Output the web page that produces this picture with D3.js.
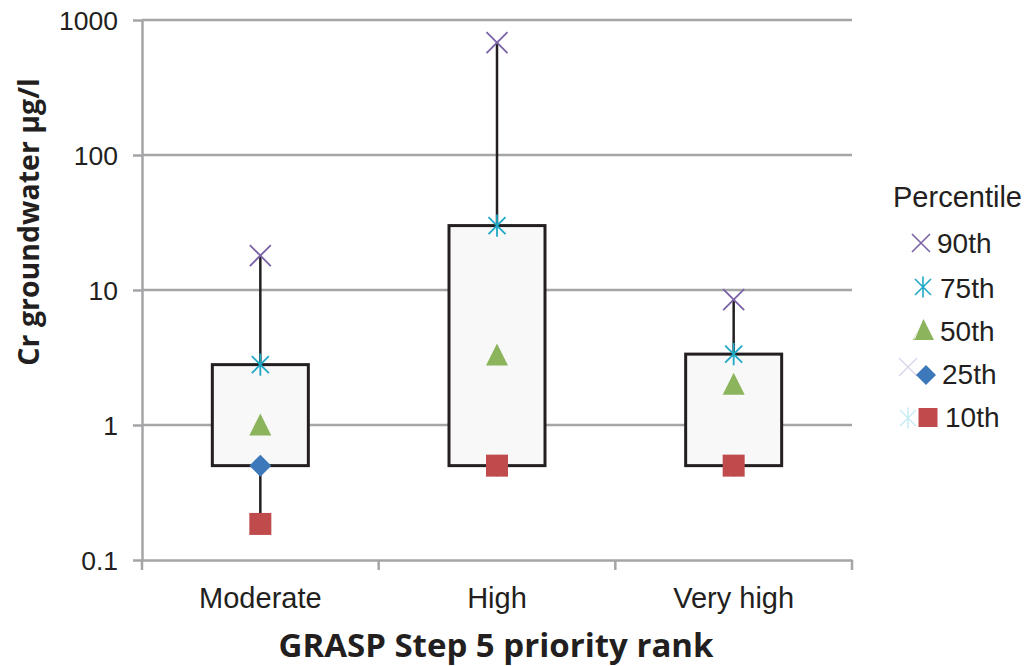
<!DOCTYPE html>
<meta charset="utf-8">
<style>
    body { margin: 0; background: #fff; }
    text { font-family: "Liberation Sans", Arial, sans-serif; fill: #231f20; }
    .title { font-family: "Open Sans", sans-serif; font-weight: 700; }
</style>
<script src="https://d3js.org/d3.v7.min.js"></script>
<body>
<script>

    // chart data
    var categories = ["Moderate", "High", "Very high"]
    var p90 = [18, 680, 8.5]
    var p75 = [2.8, 30, 3.35]
    var p50 = [1.0, 3.3, 2.0]
    var p25 = [0.5, 0.5, 0.5]
    var p10 = [0.185, 0.5, 0.5]
    var yTicks = [0.1, 1, 10, 100, 1000]
    var legendLabels = ["90th", "75th", "50th", "25th", "10th"]

    var width = 1034
    var height = 666
    var plotLeft = 142, plotRight = 852, plotTop = 20, plotBottom = 560

    var grid = "#a5a5a7"

    var svg = d3.select("body")
        .append("svg")
        .attr("width", width)
        .attr("height", height)

    var x = d3.scaleBand()
        .domain(categories)
        .range([plotLeft, plotRight])
        .padding(0)

    var y = d3.scaleLog()
        .domain([0.1, 1000])
        .range([plotBottom, plotTop])

    // gridlines
    svg.append("g")
        .selectAll("line")
        .data(yTicks.slice(1))
        .enter()
        .append("line")
        .attr("x1", plotLeft)
        .attr("x2", plotRight)
        .attr("y1", function (d) { return y(d) })
        .attr("y2", function (d) { return y(d) })
        .attr("stroke", grid)
        .attr("stroke-width", 2.5)

    // y axis
    var yAxis = svg.append("g")
        .attr("transform", "translate(" + plotLeft + ",0)")
        .call(d3.axisLeft(y)
            .tickValues(yTicks)
            .tickFormat(function (d) { return String(d) })
            .tickSize(9)
            .tickPadding(15)
            .tickSizeOuter(0))
    yAxis.select(".domain").attr("stroke", grid).attr("stroke-width", 2.5)
    yAxis.selectAll(".tick line").attr("stroke", grid).attr("stroke-width", 2.5)
    yAxis.selectAll(".tick text")
        .style("font-size", "26.5px")
        .attr("fill", "#231f20")
        .attr("dy", "0.36em")

    // x axis
    var xAxis = svg.append("g")
        .attr("transform", "translate(0," + plotBottom + ")")
        .call(d3.axisBottom(x).tickSize(0).tickPadding(27))
    xAxis.select(".domain").attr("stroke", grid).attr("stroke-width", 2.5)
    xAxis.selectAll(".tick text")
        .style("font-size", "29px")
        .attr("fill", "#231f20")
    // category boundary ticks
    var bounds = categories.map(function (c) { return x(c) }).concat([plotRight])
    xAxis.selectAll(".bound")
        .data(bounds)
        .enter()
        .append("line")
        .attr("x1", function (d) { return d })
        .attr("x2", function (d) { return d })
        .attr("y1", 0)
        .attr("y2", 10)
        .attr("stroke", grid)
        .attr("stroke-width", 2.5)

    var cx = function (i) { return x(categories[i]) + x.bandwidth() / 2 }
    var boxW = 96

    var chart = svg.append("g")

    // whiskers
    chart.selectAll(".whiskerTop")
        .data(categories)
        .enter()
        .append("line")
        .attr("x1", function (d, i) { return cx(i) })
        .attr("x2", function (d, i) { return cx(i) })
        .attr("y1", function (d, i) { return y(p90[i]) })
        .attr("y2", function (d, i) { return y(p75[i]) })
        .attr("stroke", "#231f20")
        .attr("stroke-width", 2.5)

    chart.selectAll(".whiskerBottom")
        .data(categories)
        .enter()
        .append("line")
        .attr("x1", function (d, i) { return cx(i) })
        .attr("x2", function (d, i) { return cx(i) })
        .attr("y1", function (d, i) { return y(p25[i]) })
        .attr("y2", function (d, i) { return y(p10[i]) })
        .attr("stroke", "#231f20")
        .attr("stroke-width", 2.5)

    // boxes
    chart.selectAll(".box")
        .data(categories)
        .enter()
        .append("rect")
        .attr("x", function (d, i) { return cx(i) - boxW / 2 })
        .attr("width", boxW)
        .attr("y", function (d, i) { return y(p75[i]) })
        .attr("height", function (d, i) { return y(p25[i]) - y(p75[i]) })
        .attr("fill", "#f8f8f8")
        .attr("stroke", "#231f20")
        .attr("stroke-width", 3)

    // marker shapes
    var cross = function (s) { return "M" + -s + "," + -s + "L" + s + "," + s + "M" + -s + "," + s + "L" + s + "," + -s }
    var star = function (s) { return cross(s) + "M0," + (-s * 1.3) + "L0," + (s * 1.3) }
    var tri = function (s) { return "M0," + (-s * 1.05) + "L" + s + "," + s * 0.95 + "L" + -s + "," + s * 0.95 + "Z" }
    var diamond = function (s) { return "M0," + -s + "L" + s + ",0L0," + s + "L" + -s + ",0Z" }
    var square = function (s) { return "M" + -s + "," + -s + "H" + s + "V" + s + "H" + -s + "Z" }

    var series = [
        { values: p90, path: cross(10.5), stroke: "#7a62a6", fill: "none", legend: cross(9), lx: 921 },
        { values: p75, path: star(8.5), stroke: "#1fa8c6", fill: "none", legend: star(8), lx: 923 },
        { values: p50, path: tri(11), stroke: "none", fill: "#8bb45c", legend: tri(10.5), lx: 923.5 },
        { values: p25, path: diamond(11), stroke: "none", fill: "#3c78ba", legend: diamond(10), lx: 926 },
        { values: p10, path: square(11), stroke: "none", fill: "#c04b4c", legend: square(9.5), lx: 928 }
    ]

    series.forEach(function (s) {
        chart.selectAll(null)
            .data(s.values)
            .enter()
            .append("path")
            .attr("transform", function (d, i) { return "translate(" + cx(i) + "," + y(d) + ")" })
            .attr("d", s.path)
            .attr("fill", s.fill)
            .attr("stroke", s.stroke)
            .attr("stroke-width", 1.8)
    })

    // axis titles
    svg.append("text")
        .attr("class", "title")
        .attr("transform", "translate(39,222) rotate(-90)")
        .attr("text-anchor", "middle")
        .style("font-size", "28.5px")
        .text("Cr groundwater µg/l")

    svg.append("text")
        .attr("class", "title")
        .attr("x", 496)
        .attr("y", 657)
        .attr("text-anchor", "middle")
        .style("font-size", "33px")
        .text("GRASP Step 5 priority rank")

    // legend
    var legend = svg.append("g")
    legend.append("text")
        .attr("x", 893)
        .attr("y", 207)
        .style("font-size", "29px")
        .text("Percentile")

    var legendY = [243, 287, 330, 375, 417.5]
    var legendBase = [253, 298, 341, 384, 427]
    var legendTextX = [937, 940, 940, 942, 945]

    // faint leftover markers behind the last two entries
    legend.append("path")
        .attr("transform", "translate(908,367)")
        .attr("d", cross(9))
        .attr("fill", "none")
        .attr("stroke", "#dcd6ea")
        .attr("stroke-width", 1.5)
    legend.append("path")
        .attr("transform", "translate(908,418)")
        .attr("d", star(8))
        .attr("fill", "none")
        .attr("stroke", "#c8ecf3")
        .attr("stroke-width", 1.5)

    series.forEach(function (s, i) {
        legend.append("path")
            .attr("transform", "translate(" + s.lx + "," + legendY[i] + ")")
            .attr("d", s.legend)
            .attr("fill", s.fill)
            .attr("stroke", s.stroke)
            .attr("stroke-width", 1.6)
        legend.append("text")
            .attr("x", legendTextX[i])
            .attr("y", legendBase[i])
            .style("font-size", "28px")
            .text(legendLabels[i])
    })

    // thin white streak on the legend triangle
    legend.append("line")
        .attr("x1", 923.5 - 2).attr("y1", 330 - 8)
        .attr("x2", 923.5 - 9).attr("y2", 330 + 9)
        .attr("stroke", "#ffffff")
        .attr("stroke-width", 1)

</script>
</body>
